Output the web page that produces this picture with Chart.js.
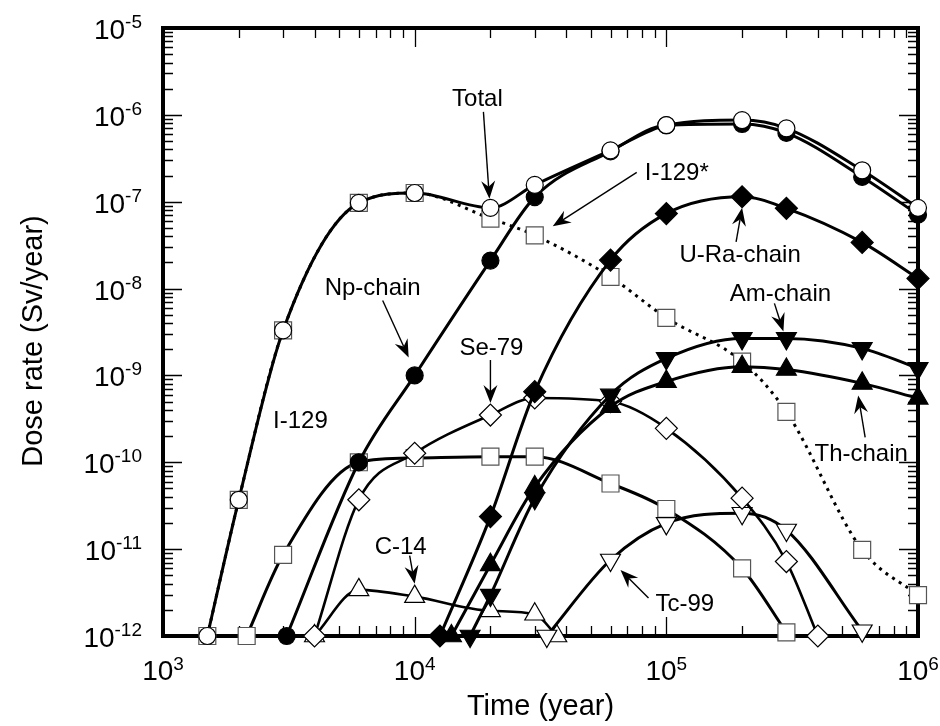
<!DOCTYPE html>
<html>
<head>
<meta charset="utf-8">
<script src="https://cdn.jsdelivr.net/npm/chart.js@4/dist/chart.umd.min.js"></script>
<style>
  html, body { margin: 0; padding: 0; background: #fff; }
  #wrap { width: 940px; height: 726px; }
</style>
</head>
<body>
<div id="wrap"><canvas id="c" width="940" height="726"></canvas></div>
<script>
// ---- axis decades (tick labels are 10^exp) ----
const xTickExps = [3, 4, 5, 6];
const yTickExps = [-12, -11, -10, -9, -8, -7, -6, -5];

// ---- dose rate series (time in years, dose in Sv/year) ----
const totalT = [1.5e3, 2e3, 3e3, 6e3, 1e4, 2e4, 3e4, 6e4, 1e5, 2e5, 3e5, 6e5, 1e6];
const totalV = [1e-12, 3.7e-11, 3.3e-9, 9.7e-8, 1.26e-7, 8.5e-8, 1.56e-7, 3.9e-7, 7.6e-7, 8.7e-7, 7.0e-7, 2.3e-7, 8.5e-8];

const i129T = [1.5e3, 2e3, 3e3, 6e3, 1e4, 2e4, 3e4, 6e4, 1e5, 2e5, 3e5, 6e5, 1e6];
const i129V = [1e-12, 3.7e-11, 3.3e-9, 9.7e-8, 1.26e-7, 6.4e-8, 4.1e-8, 1.36e-8, 4.6e-9, 1.44e-9, 3.8e-10, 9.8e-12, 2.95e-12];

const npT = [3.1e3, 6e3, 1e4, 2e4, 3e4, 6e4, 1e5, 2e5, 3e5, 6e5, 1e6];
const npV = [1e-12, 1.0e-10, 1.0e-9, 2.1e-8, 1.13e-7, 3.8e-7, 7.6e-7, 7.85e-7, 6.2e-7, 1.93e-7, 7.1e-8];

const uraT = [1.26e4, 2e4, 3e4, 6e4, 1e5, 2e5, 3e5, 6e5, 1e6];
const uraV = [1e-12, 2.37e-11, 6.5e-10, 2.13e-8, 7.3e-8, 1.14e-7, 8.4e-8, 3.4e-8, 1.31e-8];

const amT = [1.66e4, 2e4, 3e4, 6e4, 1e5, 2e5, 3e5, 6e5, 1e6];
const amV = [1e-12, 2.96e-12, 3.85e-11, 5.96e-10, 1.57e-9, 2.67e-9, 2.67e-9, 2.05e-9, 1.21e-9];

const thT = [1.4e4, 2e4, 3e4, 6e4, 1e5, 2e5, 3e5, 6e5, 1e6];
const thV = [1e-12, 6.6e-12, 5.2e-11, 4.36e-10, 8.5e-10, 1.26e-9, 1.17e-9, 8.1e-10, 5.45e-10];

const se79T = [4e3, 6e3, 1e4, 2e4, 3e4, 6e4, 1e5, 2e5, 3e5, 4e5];
const se79V = [1e-12, 3.7e-11, 1.27e-10, 3.5e-10, 5.5e-10, 5.0e-10, 2.46e-10, 3.86e-11, 7.2e-12, 1e-12];

const sqT = [2.15e3, 3e3, 6e3, 1e4, 2e4, 3e4, 6e4, 1e5, 2e5, 3e5];
const sqV = [1e-12, 8.6e-12, 1.0e-10, 1.12e-10, 1.16e-10, 1.16e-10, 5.7e-11, 2.9e-11, 6.0e-12, 1.1e-12];

const c14T = [4e3, 6e3, 1e4, 2e4, 3e4, 3.67e4];
const c14V = [1e-12, 3.4e-12, 2.84e-12, 1.95e-12, 1.78e-12, 1e-12];

const tc99T = [3.35e4, 6e4, 1e5, 2e5, 3e5, 6e5];
const tc99V = [1e-12, 7.5e-12, 1.98e-11, 2.59e-11, 1.66e-11, 1.15e-12];

const FONT = '"Liberation Sans", Arial, Helvetica, sans-serif';

function pts(T, V) { return T.map((t, i) => ({ x: t, y: V[i] })); }

function series(label, T, V, style, extra) {
  return Object.assign({
    label,
    data: pts(T, V),
    borderColor: '#000',
    borderWidth: 3,
    cubicInterpolationMode: 'monotone',
    fill: false,
    clip: false,
    pointStyle: style,
    pointRadius: 8.5,
    pointHoverRadius: 8.5,
    pointBackgroundColor: '#000',
    pointBorderColor: '#000',
    pointBorderWidth: 1.2
  }, extra || {});
}

const openPt = { pointBackgroundColor: '#fff', pointBorderColor: '#000' };
const openSq = { pointBackgroundColor: '#fff', pointBorderColor: '#555', pointBorderWidth: 1.2, pointRadius: 12, pointHoverRadius: 12 };
const dia = { pointRadius: 11, pointHoverRadius: 11 };
const tri = { pointRadius: 11.5, pointHoverRadius: 11.5 };
const triDown = { pointRadius: 11.5, pointHoverRadius: 11.5, pointRotation: 180 };

// first entry is drawn on top
const datasets = [
  series('Total', totalT, totalV, 'circle', openPt),
  series('Np-chain', npT, npV, 'circle'),
  series('U-Ra-chain', uraT, uraV, 'rectRot', dia),
  series('Th-chain', thT, thV, 'triangle', tri),
  series('Am-chain', amT, amV, 'triangle', triDown),
  series('Se-79', se79T, se79V, 'rectRot', Object.assign({ borderWidth: 2.6 }, dia, openPt)),
  series('Tc-99', tc99T, tc99V, 'triangle', Object.assign({}, triDown, openPt)),
  series('C-14', c14T, c14V, 'triangle', Object.assign({ borderWidth: 2.6 }, tri, openPt)),
  series('plateau', sqT, sqV, 'rect', openSq),
  series('I-129', i129T, i129V, 'rect', Object.assign({ borderDash: [3, 5], borderWidth: 3 }, openSq))
];

// label + arrow callouts, anchored on a data point of a series
const notes = [
  { text: 'Total',      on: 'Total',      t: 2e4, align: 'center', lab: [-13, -102], tail: [-7, -96], tip: [-1, -9] },
  { text: 'I-129*',     on: 'I-129',      t: 3e4, align: 'left',   lab: [110, -55],  tail: [102, -63], tip: [18, -9] },
  { text: 'Np-chain',   on: 'Np-chain',   t: 1e4, align: 'center', lab: [-42, -80],  tail: [-32, -75], tip: [-6, -18] },
  { text: 'Se-79',      on: 'Se-79',      t: 2e4, align: 'center', lab: [1, -60],    tail: [0, -55],   tip: [0, -12] },
  { text: 'U-Ra-chain', on: 'U-Ra-chain', t: 2e5, align: 'center', lab: [-2, 65],    tail: [-6, 45],   tip: [0, 11] },
  { text: 'Am-chain',   on: 'Am-chain',   t: 3e5, align: 'center', lab: [-6, -37],   tail: [-12, -35], tip: [-3, -7] },
  { text: 'Th-chain',   on: 'Th-chain',   t: 6e5, align: 'center', lab: [-1, 78],    tail: [3, 54],    tip: [-4, 12] },
  { text: 'I-129',      on: 'I-129',      t: 3e3, align: 'left',   lab: [-10, 98] },
  { text: 'C-14',       on: 'C-14',       t: 1e4, align: 'center', lab: [-14, -43],  tail: [-5, -41],  tip: [0, -13] },
  { text: 'Tc-99',      on: 'Tc-99',      t: 6e4, align: 'left',   lab: [45, 51],    tail: [38, 38],   tip: [10, 10] }
];

function arrow(ctx, x0, y0, x1, y1) {
  const ang = Math.atan2(y1 - y0, x1 - x0);
  const L = 18, W = 7, N = 12;
  const ca = Math.cos(ang), sa = Math.sin(ang);
  const bx = x1 - ca * N, by = y1 - sa * N;
  ctx.beginPath();
  ctx.moveTo(x0, y0);
  ctx.lineTo(bx, by);
  ctx.lineWidth = 1.4;
  ctx.stroke();
  ctx.beginPath();
  ctx.moveTo(x1, y1);
  ctx.lineTo(x1 - ca * L - sa * W, y1 - sa * L + ca * W);
  ctx.lineTo(bx, by);
  ctx.lineTo(x1 - ca * L + sa * W, y1 - sa * L - ca * W);
  ctx.closePath();
  ctx.fill();
}

const framePlugin = {
  id: 'frame',
  beforeDatasetsDraw(chart) {
    const { ctx, chartArea: a, scales: { x, y } } = chart;
    ctx.save();
    ctx.strokeStyle = '#000';
    ctx.lineWidth = 1.3;
    ctx.beginPath();
    for (let e = xTickExps[0]; e <= xTickExps[xTickExps.length - 1]; e++) {
      for (let m = 1; m <= 9; m++) {
        const v = m * Math.pow(10, e);
        if (v > x.max * 1.0001) break;
        const px = Math.round(x.getPixelForValue(v)) + 0.5;
        const len = m === 1 ? 19 : 10;
        ctx.moveTo(px, a.bottom); ctx.lineTo(px, a.bottom - len);
        ctx.moveTo(px, a.top); ctx.lineTo(px, a.top + len);
      }
    }
    for (let e = yTickExps[0]; e <= yTickExps[yTickExps.length - 1]; e++) {
      for (let m = 1; m <= 9; m++) {
        const v = m * Math.pow(10, e);
        if (v > y.max * 1.0001) break;
        const py = Math.round(y.getPixelForValue(v)) + 0.5;
        const len = m === 1 ? 19 : 10;
        ctx.moveTo(a.left, py); ctx.lineTo(a.left + len, py);
        ctx.moveTo(a.right, py); ctx.lineTo(a.right - len, py);
      }
    }
    ctx.stroke();
    ctx.lineWidth = 4;
    ctx.strokeRect(a.left, a.top, a.right - a.left, a.bottom - a.top);

    // tick labels 10^n
    ctx.fillStyle = '#000';
    ctx.textBaseline = 'alphabetic';
    xTickExps.forEach(e => {
      const px = x.getPixelForValue(Math.pow(10, e));
      ctx.font = '28px ' + FONT;
      const w1 = ctx.measureText('10').width;
      ctx.font = '19px ' + FONT;
      const w2 = ctx.measureText(String(e)).width;
      const x0 = px - (w1 + w2) / 2;
      ctx.textAlign = 'left';
      ctx.font = '28px ' + FONT;
      ctx.fillText('10', x0, 680);
      ctx.font = '19px ' + FONT;
      ctx.fillText(String(e), x0 + w1, 669.5);
    });
    yTickExps.forEach(e => {
      const py = y.getPixelForValue(Math.pow(10, e));
      ctx.font = '19px ' + FONT;
      const w2 = ctx.measureText(String(e)).width;
      ctx.textAlign = 'right';
      ctx.fillText(String(e), 142, py + 0);
      ctx.font = '28px ' + FONT;
      ctx.fillText('10', 142 - w2, py + 11);
    });

    // axis titles
    ctx.font = '29px ' + FONT;
    ctx.textAlign = 'center';
    ctx.fillText('Time (year)', (a.left + a.right) / 2, 715);
    ctx.save();
    ctx.translate(42, 341);
    ctx.rotate(-Math.PI / 2);
    ctx.fillText('Dose rate (Sv/year)', 0, 0);
    ctx.restore();
    ctx.restore();
  },
  afterDatasetsDraw(chart) {
    const { ctx, scales: { x, y } } = chart;
    ctx.save();
    ctx.fillStyle = '#000';
    ctx.strokeStyle = '#000';
    ctx.font = '24px ' + FONT;
    ctx.textBaseline = 'alphabetic';
    notes.forEach(n => {
      const ds = chart.data.datasets.find(d => d.label === n.on);
      const p = ds.data.find(d => d.x === n.t);
      const ax = x.getPixelForValue(p.x), ay = y.getPixelForValue(p.y);
      ctx.textAlign = n.align;
      ctx.fillText(n.text, ax + n.lab[0], ay + n.lab[1]);
      if (n.tail) arrow(ctx, ax + n.tail[0], ay + n.tail[1], ax + n.tip[0], ay + n.tip[1]);
    });
    ctx.restore();
  }
};

new Chart(document.getElementById('c'), {
  type: 'line',
  data: { datasets },
  options: {
    responsive: false,
    animation: false,
    devicePixelRatio: 1,
    events: [],
    layout: { padding: { left: 163, right: 22, top: 28, bottom: 90 } },
    plugins: { legend: { display: false }, tooltip: { enabled: false } },
    scales: {
      x: { type: 'logarithmic', min: 1e3, max: 1e6, display: false },
      y: { type: 'logarithmic', min: 1e-12, max: 1e-5, display: false }
    }
  },
  plugins: [framePlugin]
});
</script>
</body>
</html>
